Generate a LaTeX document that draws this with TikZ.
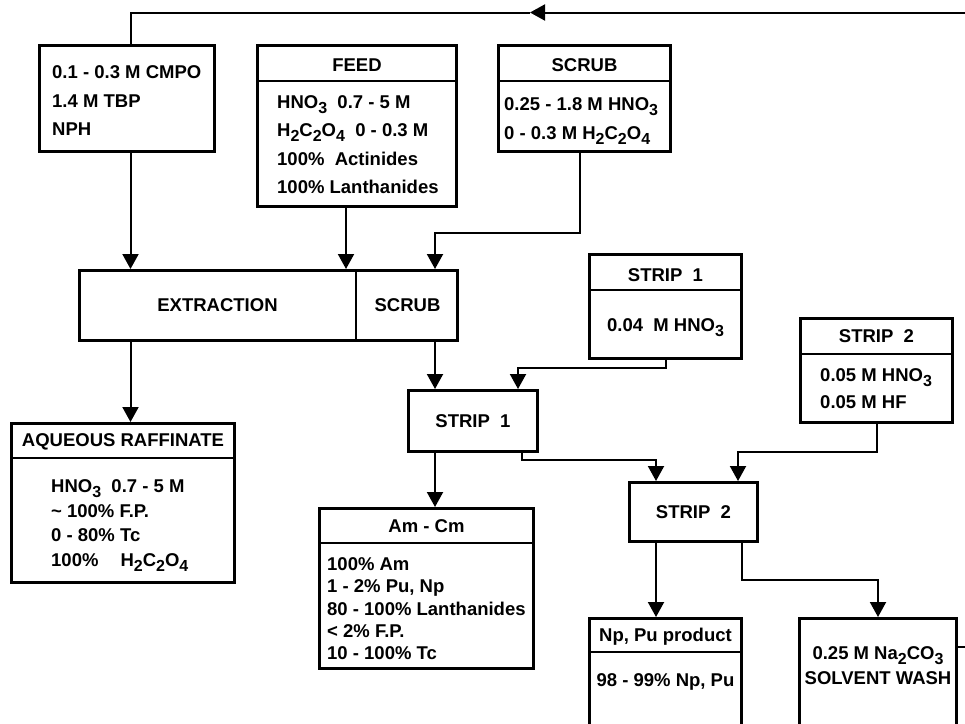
\documentclass[tikz,border=0pt]{standalone}
\usepackage{fontspec}
\setmainfont{Liberation Sans}
\usetikzlibrary{arrows.meta}
% chemical subscripts: nearly full size, well below the baseline
\newcommand\chemsub[1]{\raisebox{-5pt}{\fontsize{16}{16}\selectfont #1}}
\begin{document}
\begin{tikzpicture}[x=1pt,y=-1pt,
  box/.style={draw,line width=3pt,inner sep=0pt},
  txt/.style={inner sep=0pt,font=\bfseries\fontsize{18.5}{22}\selectfont},
  label/.style={txt,anchor=base},
  body/.style={txt,anchor=north west,align=left,font=\bfseries\fontsize{18.5}{#1}\selectfont},
  divider/.style={line width=2pt},
  conn/.style={line width=2pt},
  arr/.style={conn,-{Triangle[width=16pt,length=15pt]}}]
\clip (0,0) rectangle (965,723);
\fill[white] (0,0) rectangle (965,723);

% ---- boxes ----
\node[box,minimum width=175,minimum height=106] (cmpo) at (127,98.5) {};
\node[box,minimum width=199,minimum height=161] (feed) at (357,126) {};
\node[box,minimum width=172,minimum height=106] (scrubin) at (584.5,98.5) {};
\node[box,minimum width=378,minimum height=70] (extr) at (268.5,305.5) {};
\node[box,minimum width=223,minimum height=159] (raff) at (123,503) {};
\node[box,minimum width=152,minimum height=104] (stripin1) at (665.5,306.5) {};
\node[box,minimum width=129,minimum height=61] (strip1) at (473,421) {};
\node[box,minimum width=152,minimum height=104] (stripin2) at (876.5,370.5) {};
\node[box,minimum width=128,minimum height=59] (strip2) at (693.5,512) {};
\node[box,minimum width=214,minimum height=160] (amcm) at (426.5,588.5) {};
\node[box,minimum width=152,minimum height=125] (np) at (665.5,681) {};
\node[box,minimum width=157,minimum height=125] (wash) at (878,681) {};

% ---- header dividers ----
\foreach \b/\s in {feed/37,scrubin/37,raff/36,stripin1/37,stripin2/37,amcm/36,np/35}
  \draw[divider] ([yshift=-\s pt]\b.north west) -- ([yshift=-\s pt]\b.north east);
\draw[divider] ([xshift=278pt]extr.north west) -- ([xshift=278pt]extr.south west);

% ---- texts ----
\node[body=28.5] (cmpotxt) at (52,65.4) {0.1 - 0.3 M CMPO\\1.4 M TBP\\NPH};
\node[label] (feedhd) at (357,71.6) {FEED};
\node[body=28.3] (feedtxt) at (277,95.4)
  {HNO\chemsub{3}\ \ 0.7 - 5 M\\H\chemsub{2}C\chemsub{2}O\chemsub{4}\ \ 0 - 0.3 M\\100\%\ \ Actinides\\100\% Lanthanides};
\node[label] (scrubhd) at (584.5,71.6) {SCRUB};
\node[body=29] (scrubtxt) at (504,97.4)
  {0.25 - 1.8 M HNO\chemsub{3}\\0 - 0.3 M H\chemsub{2}C\chemsub{2}O\chemsub{4}};
\node[label] (extrtxt) at (217.5,311.6) {EXTRACTION};
\node[label] (exscrubtxt) at (407.5,311.6) {SCRUB};
\node[label] (raffhd) at (123,446.6) {AQUEOUS RAFFINATE};
\node[body=24.7] (rafftxt) at (51,479.4)
  {HNO\chemsub{3}\ \ 0.7 - 5 M\\\textasciitilde\ 100\% F.P.\\0 - 80\% Tc\\100\%\hspace{22pt}H\chemsub{2}C\chemsub{2}O\chemsub{4}};
\node[label] (s1hd) at (665.5,281.6) {STRIP\ \ 1};
\node[label] (s1txt) at (665.5,331.6) {0.04\ \ M HNO\chemsub{3}};
\node[label] (strip1txt) at (473,427.6) {STRIP\ \ 1};
\node[label] (s2hd) at (876.5,342.6) {STRIP\ \ 2};
\node[body=27] (s2txt) at (820,368.4) {0.05 M HNO\chemsub{3}\\0.05 M HF};
\node[label] (strip2txt) at (693.5,518.6) {STRIP\ \ 2};
\node[label] (amcmhd) at (426.5,532.6) {Am - Cm};
\node[body=22.3] (amcmtxt) at (327,557.4)
  {100\% Am\\1 - 2\% Pu, Np\\80 - 100\% Lanthanides\\< 2\% F.P.\\10 - 100\% Tc};
\node[label] (nphd) at (665.5,641.6) {Np, Pu product};
\node[label] (nptxt) at (665.5,686.6) {98 - 99\% Np, Pu};
\node[label] (washa) at (878,659.6) {0.25 M Na\chemsub{2}CO\chemsub{3}};
\node[label] (washb) at (878,684.6) {SOLVENT WASH};

% ---- connector columns and bends ----
\coordinate (colA) at (130.5,0);
\coordinate (colB) at (346,0);
\coordinate (colC) at (435,0);
\coordinate (colF) at (656,0);
\coordinate (topR) at (965,12.5);
\coordinate (tip) at (530,12.5);
\coordinate (j1) at (580,233);
\coordinate (j2) at (518,368);
\coordinate (j3) at (522,460);
\coordinate (j4) at (738,452);
\coordinate (j5) at (742,580);
\coordinate (washR) at (965,647);

% ---- connectors ----
\draw[arr] (topR) -- (tip);
\draw[conn] (tip) -- (colA |- tip) -- (colA |- cmpo.north);
\draw[arr] (colA |- cmpo.south) -- (colA |- extr.north);
\draw[arr] (colB |- feed.south) -- (colB |- extr.north);
\draw[arr] (j1 |- scrubin.south) |- (colC |- j1) -- (colC |- extr.north);
\draw[arr] (colA |- extr.south) -- (colA |- raff.north);
\draw[arr] (colC |- extr.south) -- (colC |- strip1.north);
\draw[arr] (stripin1.south) |- (j2) -- (j2 |- strip1.north);
\draw[arr] (colC |- strip1.south) -- (colC |- amcm.north);
\draw[arr] (j3 |- strip1.south) |- (colF |- j3) -- (colF |- strip2.north);
\draw[arr] (stripin2.south) |- (j4) -- (j4 |- strip2.north);
\draw[arr] (colF |- strip2.south) -- (colF |- np.north);
\draw[arr] (j5 |- strip2.south) |- (wash.north |- j5) -- (wash.north);
\draw[conn] (wash.east |- washR) -- (washR);
\end{tikzpicture}
\end{document}
